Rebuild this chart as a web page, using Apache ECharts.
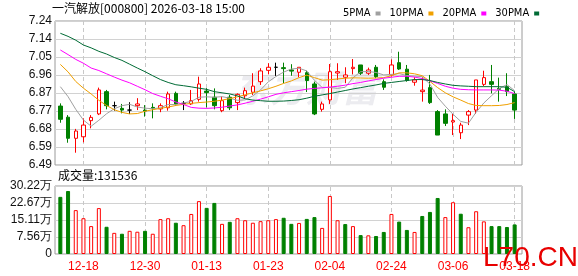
<!DOCTYPE html>
<html><head><meta charset="utf-8">
<script src="https://cdn.jsdelivr.net/npm/echarts@6/dist/echarts.min.js"></script>
<style>html,body{margin:0;padding:0;background:#fff;}#c{width:578px;height:276px;}</style>
</head><body><div id="c"></div>
<script>
const titleText = '一汽解放[000800] 2026-03-18 15:00';
const volumeTitle = '成交量:131536';
const dates = ['12-15','12-16','12-17','12-18','12-19','12-22','12-23','12-24','12-25','12-26','12-29','12-30','12-31','01-05','01-06','01-07','01-08','01-09','01-12','01-13','01-14','01-15','01-16','01-19','01-20','01-21','01-22','01-23','01-26','01-27','01-28','01-29','01-30','02-02','02-03','02-04','02-05','02-06','02-09','02-10','02-11','02-12','02-13','02-24','02-25','02-26','02-27','03-02','03-03','03-04','03-05','03-06','03-09','03-10','03-11','03-12','03-13','03-16','03-17','03-18'];
const opens  = [6.797,6.739,6.629,6.637,6.721,6.756,6.872,6.799,6.785,6.776,6.799,6.776,6.790,6.782,6.788,6.863,6.811,6.808,6.832,6.875,6.843,6.773,6.843,6.815,6.851,6.869,6.924,6.983,6.999,6.997,6.985,6.973,6.971,6.912,6.780,6.829,6.969,6.947,6.992,7.011,6.968,6.999,6.924,6.959,7.023,6.989,6.921,6.872,6.893,6.768,6.756,6.714,6.658,6.750,6.776,6.910,6.924,6.889,6.898,6.860];
const closes = [6.728,6.629,6.667,6.698,6.738,6.881,6.799,6.799,6.776,6.776,6.808,6.771,6.786,6.799,6.860,6.808,6.811,6.825,6.912,6.867,6.799,6.825,6.788,6.858,6.877,6.901,6.980,6.999,6.999,6.992,6.979,6.999,6.930,6.756,6.808,6.976,6.976,6.959,6.999,6.968,6.985,6.950,6.895,7.011,6.990,6.930,6.933,6.880,6.815,6.646,6.707,6.721,6.698,6.768,6.933,6.945,6.910,6.884,6.872,6.776];
const lows   = [6.710,6.606,6.554,6.608,6.681,6.750,6.780,6.773,6.759,6.756,6.776,6.742,6.733,6.765,6.773,6.799,6.776,6.803,6.820,6.790,6.780,6.765,6.776,6.776,6.838,6.855,6.907,6.962,6.954,6.916,6.955,6.947,6.870,6.750,6.768,6.808,6.933,6.916,6.962,6.959,6.959,6.942,6.881,6.950,6.985,6.924,6.903,6.820,6.808,6.646,6.693,6.646,6.625,6.698,6.756,6.901,6.863,6.820,6.849,6.730];
const highs  = [6.811,6.750,6.678,6.733,6.750,6.893,6.881,6.820,6.808,6.817,6.838,6.802,6.811,6.811,6.872,6.872,6.823,6.881,6.950,6.890,6.889,6.846,6.855,6.863,6.893,6.968,6.994,7.020,7.023,7.023,7.015,6.999,6.981,6.924,6.820,7.016,7.020,6.999,7.042,7.011,6.997,7.011,6.936,7.040,7.080,7.011,6.947,6.947,6.959,6.776,6.780,6.756,6.710,6.776,6.933,6.981,7.011,6.945,6.968,6.872];
const volumes = [25.4,28.0,19.5,15.9,12.4,20.4,12.1,9.4,9.0,10.3,9.9,10.3,9.0,15.5,15.9,13.9,12.8,17.8,23.5,20.5,22.7,13.4,14.3,15.9,15.0,13.9,14.6,15.0,15.5,16.1,13.4,13.8,15.6,16.4,11.6,25.8,15.0,13.3,12.4,8.4,8.3,8.0,9.8,17.8,14.4,10.7,9.8,16.9,18.7,24.9,16.4,23.0,17.9,11.9,19.0,14.5,12.4,12.4,12.0,13.15];
const ma5  = [6.898,6.846,6.780,6.724,6.692,6.723,6.757,6.783,6.799,6.806,6.792,6.786,6.783,6.788,6.805,6.805,6.813,6.821,6.843,6.845,6.843,6.846,6.838,6.827,6.829,6.850,6.881,6.923,6.951,6.974,6.990,6.994,6.980,6.931,6.894,6.894,6.889,6.895,6.944,6.976,6.977,6.972,6.959,6.962,6.966,6.956,6.953,6.950,6.911,6.842,6.796,6.754,6.717,6.708,6.765,6.813,6.851,6.888,6.909,6.877];
const ma10 = [7.014,6.975,6.925,6.890,6.860,6.827,6.800,6.778,6.764,6.756,6.758,6.770,6.778,6.785,6.792,6.800,6.806,6.811,6.815,6.818,6.822,6.828,6.836,6.845,6.856,6.866,6.876,6.887,6.900,6.915,6.928,6.945,6.958,6.945,6.932,6.934,6.938,6.942,6.944,6.943,6.942,6.943,6.945,6.955,6.970,6.970,6.965,6.955,6.925,6.893,6.866,6.845,6.828,6.810,6.800,6.799,6.799,6.800,6.805,6.815];
const ma20 = [7.089,7.065,7.040,7.020,6.995,6.982,6.965,6.948,6.932,6.918,6.900,6.882,6.862,6.848,6.835,6.818,6.805,6.790,6.786,6.785,6.787,6.791,6.797,6.803,6.812,6.822,6.833,6.845,6.858,6.866,6.872,6.878,6.885,6.889,6.892,6.896,6.900,6.906,6.914,6.920,6.928,6.935,6.942,6.947,6.952,6.952,6.948,6.940,6.928,6.915,6.900,6.890,6.884,6.882,6.881,6.881,6.881,6.880,6.874,6.862];
const ma30 = [7.176,7.160,7.140,7.115,7.100,7.082,7.068,7.050,7.035,7.015,6.995,6.976,6.955,6.935,6.920,6.908,6.903,6.897,6.890,6.884,6.872,6.866,6.860,6.850,6.835,6.828,6.825,6.822,6.822,6.823,6.826,6.830,6.838,6.848,6.855,6.862,6.870,6.878,6.886,6.893,6.900,6.907,6.915,6.920,6.925,6.930,6.935,6.935,6.930,6.920,6.912,6.905,6.902,6.900,6.898,6.898,6.898,6.898,6.895,6.872];
const priceTicks = ['6.49','6.59','6.68','6.77','6.87','6.96','7.05','7.14','7.24'];
const volTicks = ['0','7.56万','15.11万','22.67万','30.22万'];
const markDates = ['12-18','12-30','01-13','01-23','02-04','02-24','03-06','03-18'];
const maNames = ['5PMA','10PMA','20PMA','30PMA'];

const RED = '#ff0000', GREEN = '#008000';
const candleData = opens.map((o, i) => [o, closes[i], lows[i], highs[i]]);
const volData = volumes.map((v, i) => {
  const up = i === 0 ? closes[i] >= opens[i] : closes[i] >= closes[i - 1];
  return { value: v, itemStyle: up ? { color: '#fff', borderColor: RED, borderWidth: 1 } : { color: GREEN, borderColor: GREEN, borderWidth: 1 } };
});
const FONT = 'Liberation Sans, Arial, sans-serif';
const markLineCfg = {
  silent: true, symbol: ['none', 'none'], z: 1, animation: false,
  label: { show: false },
  lineStyle: { type: [4, 3], color: '#c8c8c8', width: 1 },
  data: markDates.map(d => ({ xAxis: d }))
};
const lineSeries = (name, data, color) => ({
  name, type: 'line', data, xAxisIndex: 1, yAxisIndex: 1, showSymbol: false, symbol: 'none',
  color, lineStyle: { width: 1, color }, z: 4, silent: true, animation: false
});

const chart = echarts.init(document.getElementById('c'), null, { renderer: 'canvas' });
chart.setOption({
  animation: false,
  backgroundColor: '#fff',
  legend: {
    data: maNames, left: 338, top: 3, itemWidth: 5, itemHeight: 4, itemGap: 9, align: 'right', icon: 'rect',
    textStyle: { fontSize: 11, color: '#000', fontFamily: 'Liberation Sans Narrow, DejaVu Sans Condensed, Liberation Sans, sans-serif' },
    selectedMode: false
  },
  graphic: [
    { type: 'text', left: 52, top: 2, style: { text: titleText, font: '12px "Noto Sans CJK SC", sans-serif', fill: '#000' } },
    { type: 'text', left: 58, top: 169, style: { text: volumeTitle, font: '12px "Noto Sans CJK SC", sans-serif', fill: '#000' } },
    { type: 'text', left: 234, top: 70, z: -1, style: { text: '东方财富', font: 'bold italic 36px "Noto Sans CJK SC", sans-serif', fill: '#ececf0' } },
    { type: 'text', left: 483, top: 244, z: 10, style: { text: 'L70.CN', font: '28px "Liberation Sans", Arial, sans-serif', fill: '#e80000' } }
  ],
  grid: [
    { left: 55, right: 56, top: 21, height: 144, show: true, borderColor: '#9a9a9a', borderWidth: 1, backgroundColor: 'transparent' },
    { left: 56.5, right: 59.5, top: 21, height: 144 },
    { left: 55, right: 56, top: 186, height: 68, show: true, borderColor: '#9a9a9a', borderWidth: 1, backgroundColor: 'transparent' },
    { left: 56.5, right: 59.5, top: 186, height: 68 }
  ],
  xAxis: [
    { type: 'value', gridIndex: 0, min: 0, max: 1, show: false },
    { type: 'category', gridIndex: 1, data: dates, show: false },
    { type: 'value', gridIndex: 2, min: 0, max: 1, show: false },
    { type: 'category', gridIndex: 3, data: dates,
      axisLine: { show: false }, axisTick: { show: false }, splitLine: { show: false },
      axisLabel: { color: RED, fontSize: 12, fontFamily: FONT, margin: 7,
        interval: (i) => markDates.indexOf(dates[i]) >= 0 } }
  ],
  yAxis: [
    { type: 'value', gridIndex: 0, min: 0, max: priceTicks.length - 1, interval: 1,
      axisLine: { show: false }, axisTick: { show: false },
      splitLine: { show: true, lineStyle: { color: '#d2d2d2', width: 1 } },
      axisLabel: { color: '#111', fontSize: 12, fontFamily: FONT, margin: 3, formatter: (v) => priceTicks[Math.round(v)] } },
    { type: 'value', gridIndex: 1, min: 6.49, max: 7.24, show: false, splitLine: { show: false } },
    { type: 'value', gridIndex: 2, min: 0, max: volTicks.length - 1, interval: 1,
      axisLine: { show: false }, axisTick: { show: false },
      splitLine: { show: true, lineStyle: { color: '#d2d2d2', width: 1 } },
      axisLabel: { color: '#111', fontSize: 12, fontFamily: FONT, margin: 3, formatter: (v) => volTicks[Math.round(v)] } },
    { type: 'value', gridIndex: 3, min: 0, max: 30.22, show: false, splitLine: { show: false } }
  ],
  series: [
    { type: 'candlestick', xAxisIndex: 1, yAxisIndex: 1, data: candleData, barWidth: 4, z: 3, silent: true,
      itemStyle: { color: '#fff', color0: GREEN, borderColor: RED, borderColor0: GREEN, borderColorDoji: '#000', borderWidth: 1 },
      markLine: markLineCfg },
    lineSeries(maNames[0], ma5, '#a0a0a0'),
    lineSeries(maNames[1], ma10, '#f0a000'),
    lineSeries(maNames[2], ma20, '#ff00ff'),
    lineSeries(maNames[3], ma30, '#006b35'),
    { type: 'bar', xAxisIndex: 3, yAxisIndex: 3, data: volData, barWidth: 4, z: 3, silent: true,
      markLine: markLineCfg }
  ]
});
</script></body></html>
